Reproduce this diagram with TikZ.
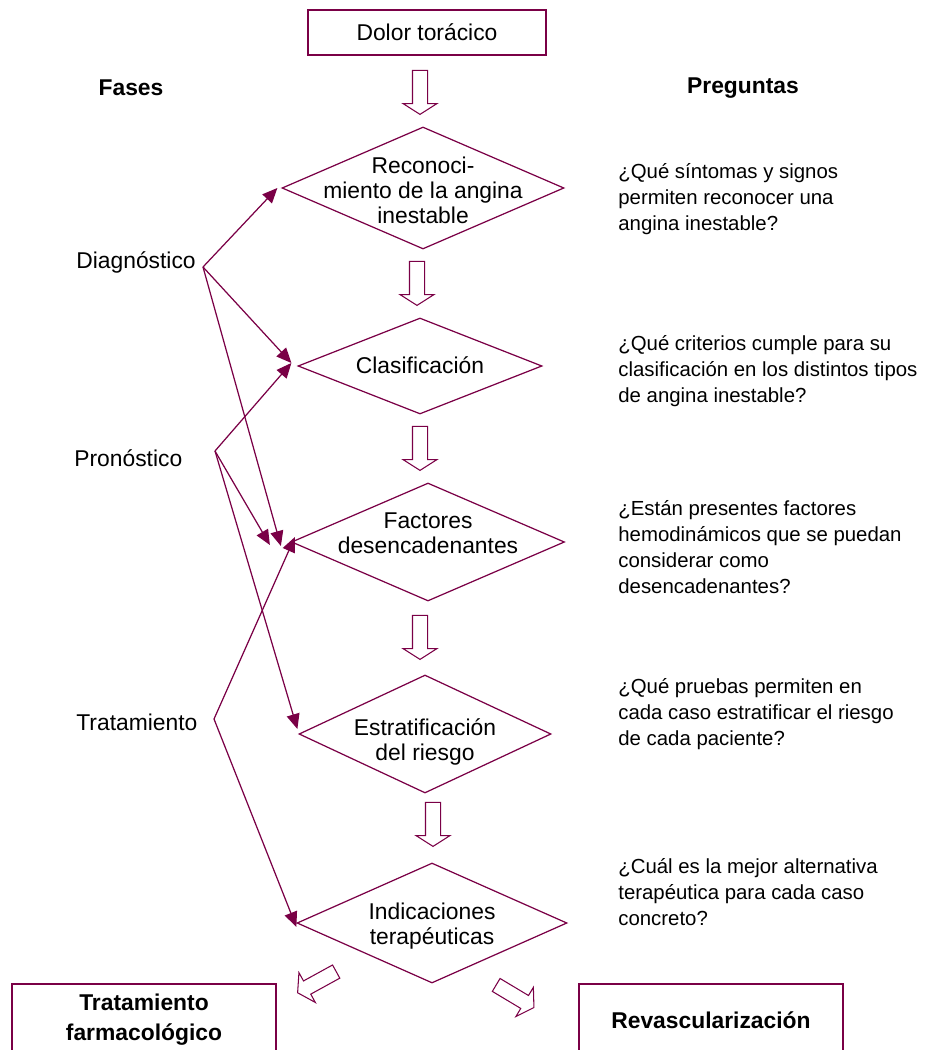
\documentclass[tikz,border=0pt]{standalone}
\usepackage{fontspec}
\setmainfont{Liberation Sans}
\usetikzlibrary{shapes.geometric}
\usetikzlibrary{shapes.arrows}
\usetikzlibrary{arrows.meta}
\usetikzlibrary{calc}

\definecolor{wine}{RGB}{122, 0, 70}

\tikzset{
  box/.style = {draw = wine, line width = .7pt, minimum width = 5.28cm,
    minimum height = 1.44cm, align = center},
  phase/.style 2 args = {diamond, draw = wine, line width = .7pt,
    inner sep = 0, minimum width = #1*0.02cm, minimum height = #2*0.02cm},
  fat arrow/.style = {single arrow, draw = wine, line width = .6pt,
    inner xsep = 0, inner ysep = .14cm, minimum height = .88cm,
    single arrow head extend = .19cm, single arrow tip angle = 115,
    single arrow head indent = 0},
  link/.style = {draw = wine, line width = .7pt,
    -{Triangle[length = .3cm, width = .26cm]}},
  txt/.style = {font = \fontsize{13}{14.2}\selectfont, align = center},
  ask/.style = {font = \fontsize{11.6}{14.7}\selectfont, align = left,
    anchor = west, inner sep = 0}
}

\begin{document}
\begin{tikzpicture}[x = .02cm, y = -.02cm]
  \useasboundingbox (0, 0) rectangle (925, 1050);
  \clip (0, 0) rectangle (925, 1050);

  \node[draw = wine, line width = .7pt, minimum width = 4.76cm,
    minimum height = .9cm, txt] (dolor) at (427, 32.5) {Dolor torácico};

  \node[txt, font = \fontsize{13}{14.2}\selectfont\bfseries] (fases) at (131, 88)
  {Fases};
  \node[txt, font = \fontsize{13}{14.2}\selectfont\bfseries] (preguntas) at
  (743, 88) {Preguntas};

  % diamonds
  \node[phase = {282}{122}] (d1) at (423, 188) {};
  \node[phase = {244}{96}] (d2) at (420, 366) {};
  \node[phase = {273}{118}] (d3) at (428, 542) {};
  \node[phase = {252}{118}] (d4) at (425, 734) {};
  \node[phase = {270}{120}] (d5) at (432, 923) {};

  \node[txt] (t1) at ($(d1) + (0, 2)$) {Reconoci-\\miento de la angina\\inestable};
  \node[txt] (t2) at ($(d2) + (0, -1)$) {Clasificación};
  \node[txt] (t3) at ($(d3) + (0, -9)$) {Factores\\desencadenantes};
  \node[txt] (t4) at ($(d4) + (0, 8)$) {Estratificación\\del riesgo};
  \node[txt] (t5) at ($(d5) + (0, 3)$) {Indicaciones\\terapéuticas};

  \foreach \x/\y [count = \i] in {420/90, 417/281, 420/446, 420/635, 433/822}
    \node[fat arrow, rotate = 270] (down\i) at (\x, \y) {};
  \node[fat arrow, rotate = 208.8] (toleft) at (319, 981) {};
  \node[fat arrow, rotate = -30.9] (toright) at (513, 995) {};

  \node[box, font = \fontsize{13}{17}\selectfont\bfseries] (farmaco) at
  (144, 1020) {Tratamiento\\farmacológico};
  \node[box, font = \fontsize{13}{17}\selectfont\bfseries] (revasc) at
  (711, 1020) {Revascularización};

  % phases
  \node[txt, anchor = west, inner sep = 0] (diagnostico) at (76, 262)
  {Diagnóstico};
  \node[txt, anchor = west, inner sep = 0] (pronostico) at (74, 458)
  {Pronóstico};
  \node[txt, anchor = west, inner sep = 0] (tratamiento) at (76, 722)
  {Tratamiento};

  \coordinate (diag) at (203, 267);
  \coordinate (pron) at (215, 451);
  \coordinate (trat) at (214, 719);

  \draw[link] (diag) -- ($(d1.west) + (-4, 0)$);
  \draw[link] (diag) -- ($(d2.west) + (-6, -3)$);
  \draw[link] (diag) -- ($(d3.west) + (-10, 4)$);
  \draw[link] (pron) -- ($(d2.west) + (-6, -3)$);
  \draw[link] (pron) -- ($(d3.west) + (-21, 3)$);
  \draw[link] (pron) -- ($(d4.west) + (-1, -5)$);
  \draw[link] (trat) -- ($(d3.west) + (4, -5)$);
  \draw[link] (trat) -- ($(d5.west) + (0, 4)$);

  % questions
  \node[ask] (q1) at (618, 199) {¿Qué síntomas y signos\\permiten reconocer una\\angina inestable?};
  \node[ask] (q2) at (618, 371) {¿Qué criterios cumple para su\\clasificación en los distintos tipos\\de angina inestable?};
  \node[ask] (q3) at (618, 547) {¿Están presentes factores\\hemodinámicos que se puedan\\considerar como\\desencadenantes?};
  \node[ask] (q4) at (618, 714) {¿Qué pruebas permiten en\\cada caso estratificar el riesgo\\de cada paciente?};
  \node[ask] (q5) at (618, 892) {¿Cuál es la mejor alternativa\\terapéutica para cada caso\\concreto?};
\end{tikzpicture}
\end{document}
